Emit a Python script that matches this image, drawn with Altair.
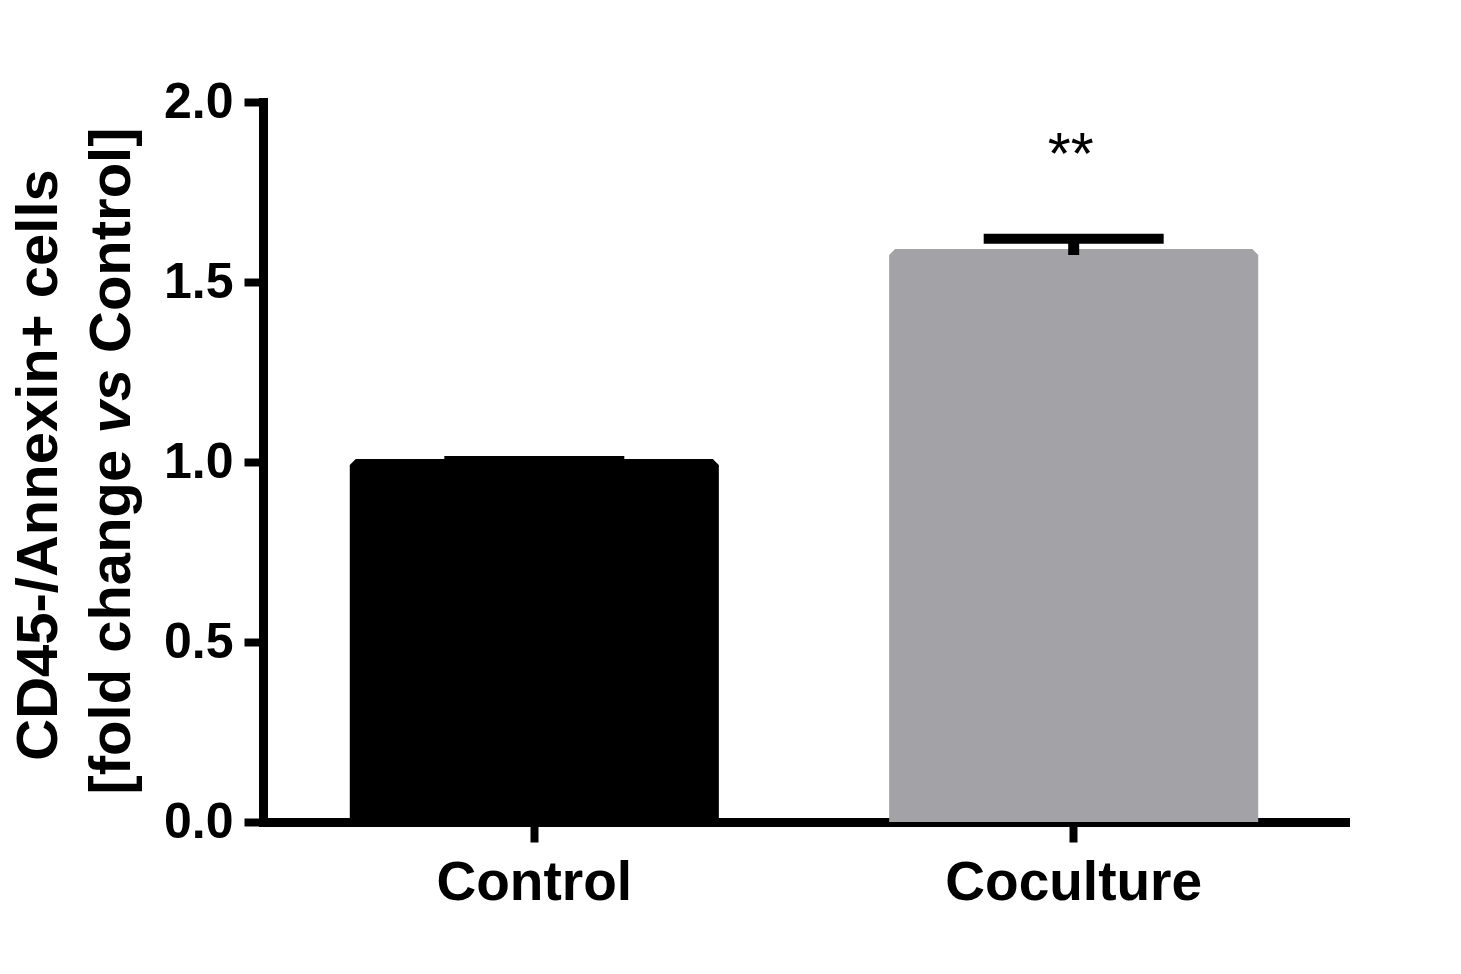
import altair as alt
import pandas as pd

# ---- data ----
categories = ["Control", "Coculture"]
means = [0.992, 1.575]
sems = [0.011, 0.045]
bar_colors = ["#000000", "#a3a2a7"]
significance = ["", "**"]
y_ticks = [0.0, 0.5, 1.0, 1.5, 2.0]
title_line1 = "CD45-/Annexin+ cells"
title_line2_parts = ["[fold change", "vs", "Control]"]

df = pd.DataFrame({"group": categories, "mean": means, "sem": sems, "sig": significance})
df["top"] = df["mean"] + df["sem"]
df["star_y"] = df["top"] + 0.18

FONT = "Liberation Sans, Arial, Helvetica, sans-serif"
W, H = 1082, 720

x_enc = alt.X("group:N", sort=categories,
              scale=alt.Scale(paddingInner=0.338, paddingOuter=0.172),
              axis=alt.Axis(title=None, labelAngle=0, labelFontSize=55, tickSize=20,
                            labelPadding=14, labelLimit=0))
y_scale = alt.Scale(domain=[0, 2], nice=False, zero=True)

base = alt.Chart(df)

bars = base.mark_bar(strokeWidth=12, strokeJoin="bevel", clip=True).encode(
    x=x_enc,
    y=alt.Y("mean:Q", scale=y_scale,
            axis=alt.Axis(title=None, values=y_ticks, format=".1f", labelFontSize=50,
                          tickSize=19, labelPadding=11)),
    fill=alt.Color("group:N", scale=alt.Scale(domain=categories, range=bar_colors), legend=None),
    stroke=alt.Color("group:N", scale=alt.Scale(domain=categories, range=bar_colors), legend=None),
)

stems = base.mark_rule(strokeWidth=11, color="black").encode(
    x=alt.X("group:N", sort=categories), y=alt.Y("mean:Q", scale=y_scale), y2="top:Q")

caps = base.mark_tick(size=180, thickness=10, color="black", opacity=1).encode(
    x=alt.X("group:N", sort=categories), y=alt.Y("top:Q", scale=y_scale))

stars = base.mark_text(fontSize=59, font=FONT, fontWeight="normal", color="black",
                       baseline="alphabetic", align="center", dx=-3).encode(
    x=alt.X("group:N", sort=categories), y=alt.Y("star_y:Q", scale=y_scale), text="sig:N")

# ---- rotated y title built from text pieces (to allow italic "vs") ----
TF = 58
adv = {" ": 278, "[": 333, "]": 333, "f": 333, "o": 611, "l": 278, "d": 611, "c": 556,
       "h": 611, "a": 556, "n": 611, "g": 611, "e": 556, "v": 556, "s": 556, "C": 722,
       "t": 333, "r": 389}

def width(s):
    return sum(adv.get(ch, 556) for ch in s) / 1000 * TF

space = adv[" "] / 1000 * TF
widths = [width(p) for p in title_line2_parts]
total = sum(widths) + 2 * space
center2 = 359
start = center2 + total / 2
starts = [start, start - widths[0] - space, start - widths[0] - widths[1] - 2 * space]
styles = ["normal", "italic", "normal"]

title_layers = [
    alt.Chart(pd.DataFrame({"t": [title_line1]})).mark_text(
        angle=270, fontSize=TF, font=FONT, fontWeight="bold", color="black",
        align="center", baseline="alphabetic").encode(
        text="t:N", x=alt.value(-206), y=alt.value(363))
]
for part, s, st in zip(title_line2_parts, starts, styles):
    title_layers.append(
        alt.Chart(pd.DataFrame({"t": [part]})).mark_text(
            angle=270, fontSize=TF, font=FONT, fontWeight="bold", fontStyle=st,
            color="black", align="left", baseline="alphabetic").encode(
            text="t:N", x=alt.value(-133), y=alt.value(s))
    )

chart = alt.layer(bars, stems, caps, stars, *title_layers).properties(
    width=W, height=H,
    autosize=alt.AutoSizeParams(type="none"),
    padding={"left": 263, "top": 102, "right": 1461 - 263 - W, "bottom": 974 - 102 - H},
    background="white",
).configure_view(stroke=None).configure_axis(
    domainColor="black", domainWidth=9, domainCap="square", tickColor="black", tickWidth=8,
    labelFont=FONT, labelFontWeight="bold", labelColor="black", grid=False, zindex=1,
)

chart.save("out.html", embed_options={"renderer": "svg", "actions": False})
